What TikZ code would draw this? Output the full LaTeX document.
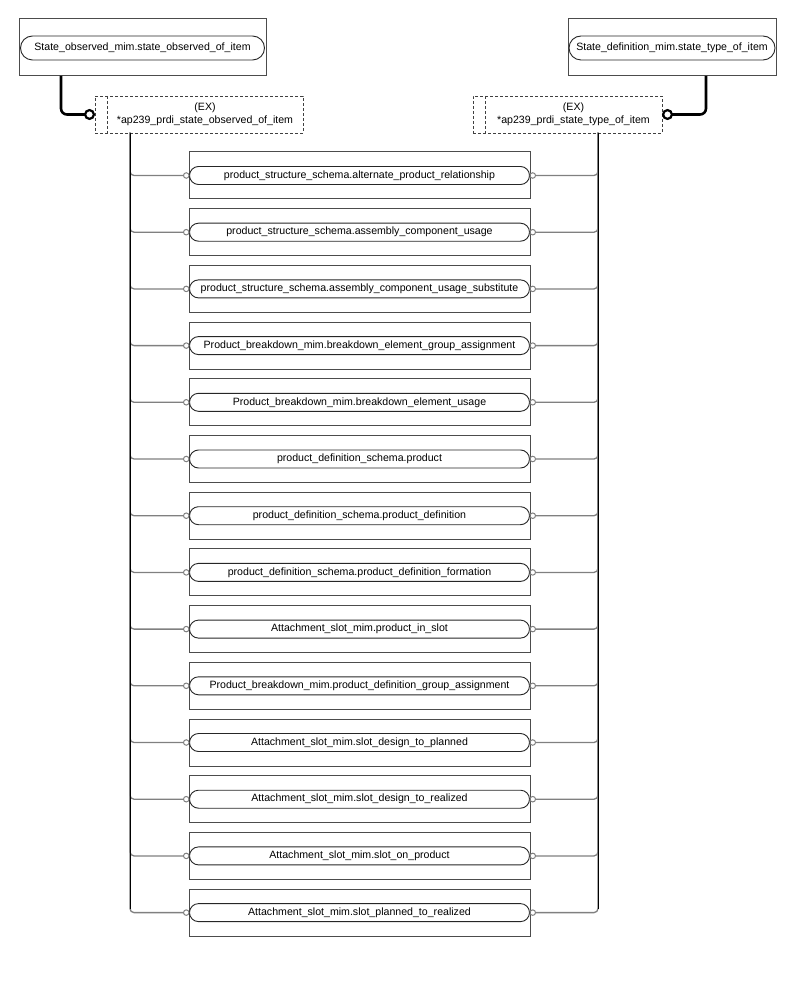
\documentclass[tikz,border=0pt]{standalone}
\usepackage{fontspec}
\setmainfont{Liberation Sans}
\usepackage{tikz}
\usetikzlibrary{arrows.meta, positioning}
\tikzstyle{topbox}=[rectangle, draw=black!70, line width=1pt, minimum height=57pt, inner sep=0pt, outer sep=0pt]
\tikzstyle{rowbox}=[rectangle, draw=black!70, line width=1pt, minimum width=341pt, minimum height=47pt, inner sep=0pt, outer sep=0pt]
\tikzstyle{pill}=[rectangle, rounded corners=9pt, draw=black!85, line width=0.9pt, minimum height=18pt, inner sep=0pt, outer sep=0pt, font=\fontsize{10.6}{12.5}\selectfont]
\tikzstyle{exbox}=[rectangle, draw=black!75, line width=0.9pt, dash pattern=on 3pt off 2pt, minimum height=37pt, inner sep=0pt, outer sep=0pt]
\tikzstyle{extext}=[align=center, inner sep=0pt, font=\fontsize{10.6}{13}\selectfont]
\tikzstyle{exline}=[draw=black!75, line width=0.9pt, dash pattern=on 3pt off 2pt]
\tikzstyle{heavy}=[line width=2.6pt, rounded corners=6pt, -{Circle[open, length=11pt, line width=2.2pt]}]
\tikzstyle{branch}=[draw=black!50, line width=1.3pt, rounded corners=4pt, -{Circle[open, length=6.5pt, line width=1pt]}]
\tikzstyle{trunk}=[line width=1pt]

\begin{document}
\begin{tikzpicture}[x=1pt, y=1pt]
	\useasboundingbox (0,0) rectangle (794,-984);
	
		% top entities
		\node(sl)[topbox, minimum width=247pt] at (142.5,-47.5){};
		\node(sl-p)[pill, minimum width=244pt, minimum height=24pt, rounded corners=12pt] at (142.5,-48){State\_observed\_mim.state\_observed\_of\_item};
		
		\node(sr)[topbox, minimum width=208pt] at (672,-47.5){};
		\node(sr-p)[pill, minimum width=206pt, minimum height=24pt, rounded corners=12pt] at (672,-48){State\_definition\_mim.state\_type\_of\_item};
		
		
		% extension boxes
		\node(exl)[exbox, minimum width=208pt] at (199,-114.5){};
		\draw[exline]([xshift=12pt]exl.north west)--([xshift=12pt]exl.south west);
		\node(exl-t)[extext] at ([xshift=6pt]exl.center){(EX)\\*ap239\_prdi\_state\_observed\_of\_item};
		
		\node(exr)[exbox, minimum width=189pt] at (567.5,-114.5){};
		\draw[exline]([xshift=12pt]exr.north west)--([xshift=12pt]exr.south west);
		\node(exr-t)[extext] at ([xshift=6pt]exr.center){(EX)\\*ap239\_prdi\_state\_type\_of\_item};
		
		
		% rows
		\node(r1)[rowbox] at (359.5,-175.5){};
		\node(p1)[pill, minimum width=340pt] at (r1){product\_structure\_schema.alternate\_product\_relationship};
		
		\node(r2)[rowbox, below=9.7pt of r1]{};
		\node(p2)[pill, minimum width=340pt] at (r2){product\_structure\_schema.assembly\_component\_usage};
		
		\node(r3)[rowbox, below=9.7pt of r2]{};
		\node(p3)[pill, minimum width=340pt] at (r3){product\_structure\_schema.assembly\_component\_usage\_substitute};
		
		\node(r4)[rowbox, below=9.7pt of r3]{};
		\node(p4)[pill, minimum width=340pt] at (r4){Product\_breakdown\_mim.breakdown\_element\_group\_assignment};
		
		\node(r5)[rowbox, below=9.7pt of r4]{};
		\node(p5)[pill, minimum width=340pt] at (r5){Product\_breakdown\_mim.breakdown\_element\_usage};
		
		\node(r6)[rowbox, below=9.7pt of r5]{};
		\node(p6)[pill, minimum width=340pt] at (r6){product\_definition\_schema.product};
		
		\node(r7)[rowbox, below=9.7pt of r6]{};
		\node(p7)[pill, minimum width=340pt] at (r7){product\_definition\_schema.product\_definition};
		
		\node(r8)[rowbox, below=9.7pt of r7]{};
		\node(p8)[pill, minimum width=340pt] at (r8){product\_definition\_schema.product\_definition\_formation};
		
		\node(r9)[rowbox, below=9.7pt of r8]{};
		\node(p9)[pill, minimum width=340pt] at (r9){Attachment\_slot\_mim.product\_in\_slot};
		
		\node(r10)[rowbox, below=9.7pt of r9]{};
		\node(p10)[pill, minimum width=340pt] at (r10){Product\_breakdown\_mim.product\_definition\_group\_assignment};
		
		\node(r11)[rowbox, below=9.7pt of r10]{};
		\node(p11)[pill, minimum width=340pt] at (r11){Attachment\_slot\_mim.slot\_design\_to\_planned};
		
		\node(r12)[rowbox, below=9.7pt of r11]{};
		\node(p12)[pill, minimum width=340pt] at (r12){Attachment\_slot\_mim.slot\_design\_to\_realized};
		
		\node(r13)[rowbox, below=9.7pt of r12]{};
		\node(p13)[pill, minimum width=340pt] at (r13){Attachment\_slot\_mim.slot\_on\_product};
		
		\node(r14)[rowbox, below=9.7pt of r13]{};
		\node(p14)[pill, minimum width=340pt] at (r14){Attachment\_slot\_mim.slot\_planned\_to\_realized};
		
		
		% connectors
		\coordinate(sl-foot) at ([xshift=42pt]sl.south west);
		\coordinate(sr-foot) at ([xshift=-70pt]sr.south east);
		\coordinate(ltrunk) at ([xshift=35pt]exl.south west);
		\coordinate(rtrunk) at ([xshift=125pt]exr.south west);
		
		\draw[heavy](sl-foot)|-(exl.west);
		\draw[heavy](sr-foot)|-(exr.east);
		
		\draw[branch](ltrunk)|-(p1.west); \draw[branch](rtrunk)|-(p1.east);
		\draw[branch](ltrunk)|-(p2.west); \draw[branch](rtrunk)|-(p2.east);
		\draw[branch](ltrunk)|-(p3.west); \draw[branch](rtrunk)|-(p3.east);
		\draw[branch](ltrunk)|-(p4.west); \draw[branch](rtrunk)|-(p4.east);
		\draw[branch](ltrunk)|-(p5.west); \draw[branch](rtrunk)|-(p5.east);
		\draw[branch](ltrunk)|-(p6.west); \draw[branch](rtrunk)|-(p6.east);
		\draw[branch](ltrunk)|-(p7.west); \draw[branch](rtrunk)|-(p7.east);
		\draw[branch](ltrunk)|-(p8.west); \draw[branch](rtrunk)|-(p8.east);
		\draw[branch](ltrunk)|-(p9.west); \draw[branch](rtrunk)|-(p9.east);
		\draw[branch](ltrunk)|-(p10.west); \draw[branch](rtrunk)|-(p10.east);
		\draw[branch](ltrunk)|-(p11.west); \draw[branch](rtrunk)|-(p11.east);
		\draw[branch](ltrunk)|-(p12.west); \draw[branch](rtrunk)|-(p12.east);
		\draw[branch](ltrunk)|-(p13.west); \draw[branch](rtrunk)|-(p13.east);
		\draw[branch](ltrunk)|-(p14.west); \draw[branch](rtrunk)|-(p14.east);
		
		\draw[trunk](ltrunk)--([yshift=4pt]ltrunk|-p14.west);
		\draw[trunk](rtrunk)--([yshift=4pt]rtrunk|-p14.east);
		
	\end{tikzpicture}
\end{document}
